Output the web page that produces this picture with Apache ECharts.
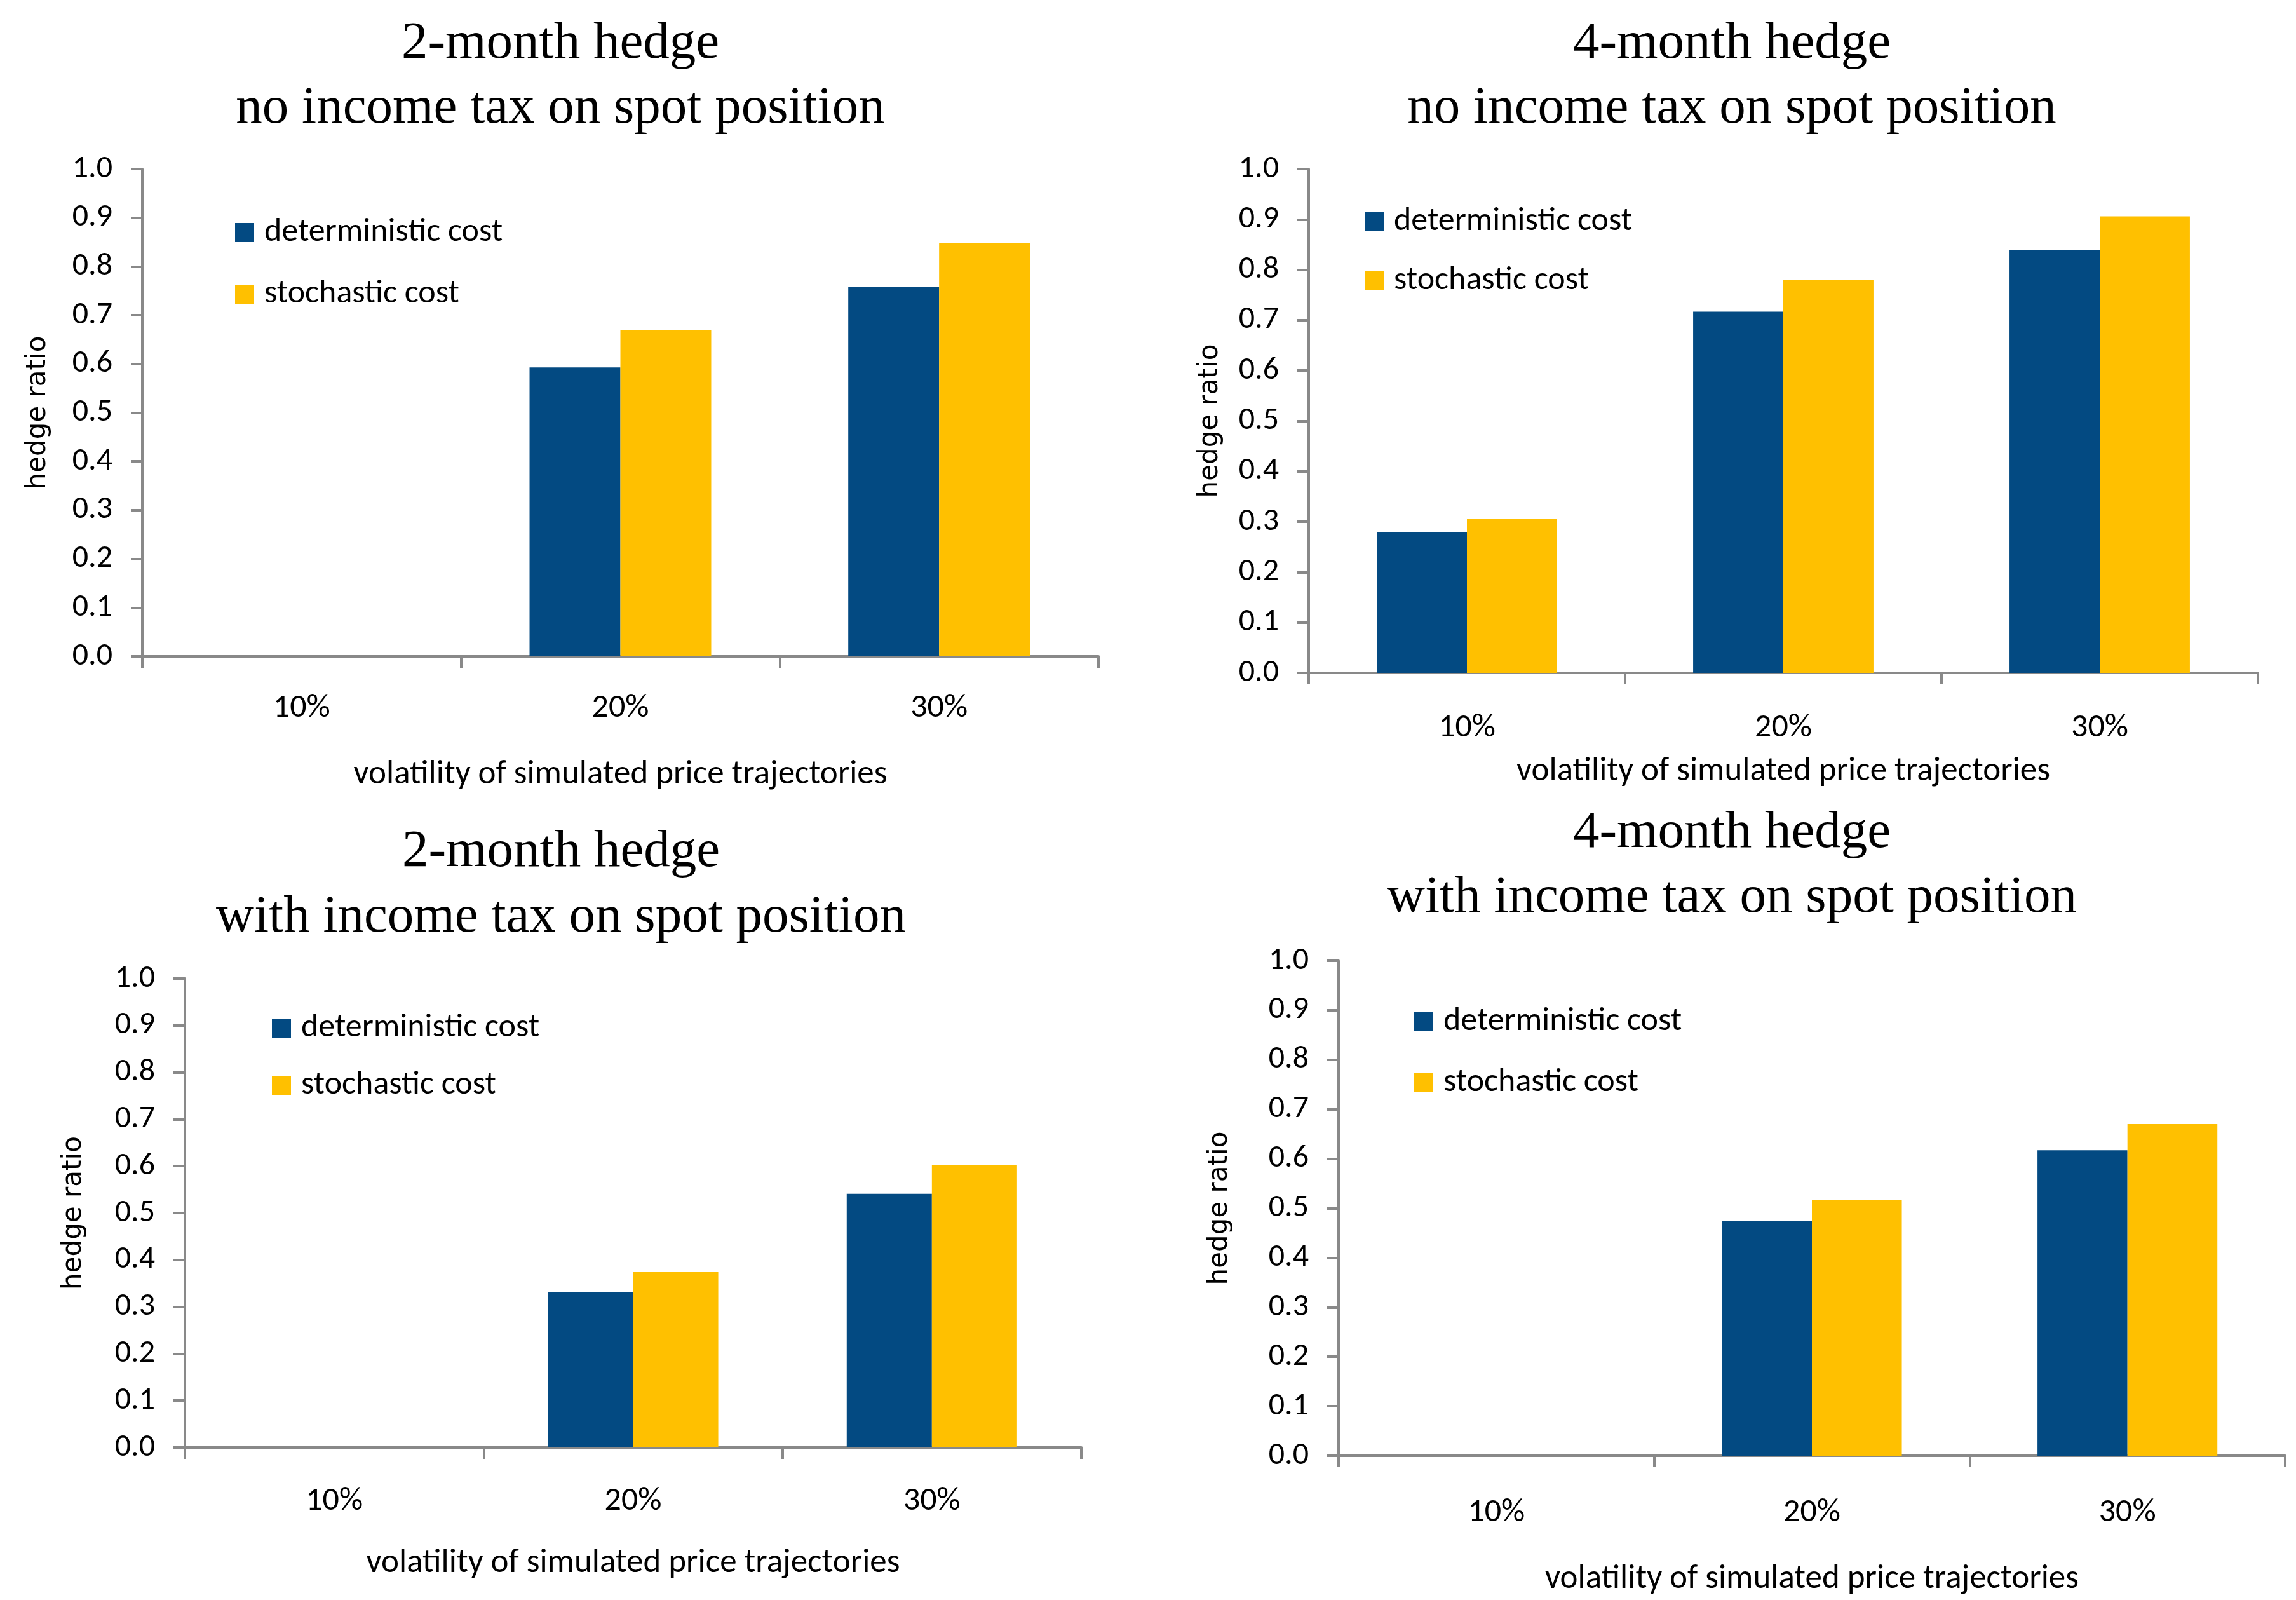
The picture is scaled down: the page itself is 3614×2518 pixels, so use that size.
<!DOCTYPE html>
<html>
<head>
<meta charset="utf-8">
<script src="https://cdn.jsdelivr.net/npm/echarts@6/dist/echarts.min.js"></script>
<style>
html,body{margin:0;padding:0;background:#fff;}
#chart{width:3614px;height:2518px;}
</style>
</head>
<body>
<div id="chart"></div>
<script>
// ---- data ----
const categories = ['10%', '20%', '30%'];
const seriesNames = ['deterministic cost', 'stochastic cost'];
const panelTitles = [
  '2-month hedge\nno income tax on spot position',
  '4-month hedge\nno income tax on spot position',
  '2-month hedge\nwith income tax on spot position',
  '4-month hedge\nwith income tax on spot position'
];
const det2NoTax = [0, 0.593, 0.758];
const sto2NoTax = [0, 0.669, 0.848];
const det4NoTax = [0.279, 0.717, 0.840];
const sto4NoTax = [0.306, 0.780, 0.906];
const det2Tax = [0, 0.331, 0.541];
const sto2Tax = [0, 0.374, 0.602];
const det4Tax = [0, 0.474, 0.617];
const sto4Tax = [0, 0.516, 0.670];
const yAxisName = 'hedge ratio';
const xAxisName = 'volatility of simulated price trajectories';
const yMin = 0, yMax = 1.0, yStep = 0.1;

// ---- layout / style ----
const NAVY = '#034A82', GOLD = '#FFC000', AXIS = '#898989';
const labelFont = 'Carlito, Lato, sans-serif';
const panels = [
  {grid:{left:224,top:266,width:1505,height:767}, title:{x:882,top:18,lh:102},
   legend:{left:370,top:340,gap:45}, xLabelMargin:56, xNameGap:160, yNameGap:143,
   det:det2NoTax, sto:sto2NoTax},
  {grid:{left:2060,top:266,width:1494,height:793}, title:{x:2726,top:18,lh:102},
   legend:{left:2148,top:323,gap:41}, xLabelMargin:61, xNameGap:129, yNameGap:134,
   det:det4NoTax, sto:sto4NoTax},
  {grid:{left:291,top:1540,width:1411,height:738}, title:{x:883,top:1290,lh:103},
   legend:{left:428,top:1592,gap:38}, xLabelMargin:59, xNameGap:156, yNameGap:154,
   det:det2Tax, sto:sto2Tax},
  {grid:{left:2107,top:1512,width:1490,height:779}, title:{x:2726,top:1260,lh:102},
   legend:{left:2226,top:1582,gap:44}, xLabelMargin:64, xNameGap:168, yNameGap:166,
   det:det4Tax, sto:sto4Tax}
];

const option = {
  animation: false,
  backgroundColor: '#ffffff',
  title: [], legend: [], grid: [], xAxis: [], yAxis: [], series: []
};

panels.forEach((p, i) => {
  option.title.push({
    text: panelTitles[i], left: p.title.x, top: p.title.top, textAlign: 'center',
    padding: 0,
    textStyle: {fontFamily: 'Liberation Serif, serif', fontWeight: 'normal',
      fontSize: 83, lineHeight: p.title.lh, color: '#000'}
  });
  option.legend.push({
    data: seriesNames, orient: 'vertical', left: p.legend.left, top: p.legend.top,
    padding: 0, itemGap: p.legend.gap, itemWidth: 30, itemHeight: 30, icon: 'rect',
    selectedMode: false,
    textStyle: {fontFamily: labelFont, fontSize: 52, lineHeight: 30, color: '#000',
      padding: [0, 0, 0, 11]}
  });
  option.grid.push(Object.assign({containLabel: false}, p.grid));
  option.xAxis.push({
    type: 'category', gridIndex: i, data: categories,
    axisLine: {lineStyle: {color: AXIS, width: 4}},
    axisTick: {show: true, length: 18, lineStyle: {color: AXIS, width: 4}},
    axisLabel: {margin: p.xLabelMargin, fontFamily: labelFont, fontSize: 52, color: '#000'},
    name: xAxisName, nameLocation: 'middle', nameGap: p.xNameGap,
    nameTextStyle: {fontFamily: labelFont, fontSize: 53, color: '#000'}
  });
  option.yAxis.push({
    type: 'value', gridIndex: i, min: yMin, max: yMax, interval: yStep,
    axisLine: {show: true, lineStyle: {color: AXIS, width: 4}},
    axisTick: {show: true, length: 18, lineStyle: {color: AXIS, width: 4}},
    splitLine: {show: false},
    axisLabel: {margin: 47, fontFamily: labelFont, fontSize: 50, color: '#000',
      formatter: v => v.toFixed(1)},
    name: yAxisName, nameLocation: 'middle', nameGap: p.yNameGap, nameRotate: 90,
    nameTextStyle: {fontFamily: 'DejaVu Sans, sans-serif', fontSize: 42, color: '#000'}
  });
  option.series.push({
    name: seriesNames[0], type: 'bar', xAxisIndex: i, yAxisIndex: i, data: p.det,
    itemStyle: {color: NAVY}, barGap: '0%', barCategoryGap: '43%'
  });
  option.series.push({
    name: seriesNames[1], type: 'bar', xAxisIndex: i, yAxisIndex: i, data: p.sto,
    itemStyle: {color: GOLD}, barGap: '0%', barCategoryGap: '43%'
  });
});

const chart = echarts.init(document.getElementById('chart'), null, {renderer: 'canvas'});
chart.setOption(option);
</script>
</body>
</html>
